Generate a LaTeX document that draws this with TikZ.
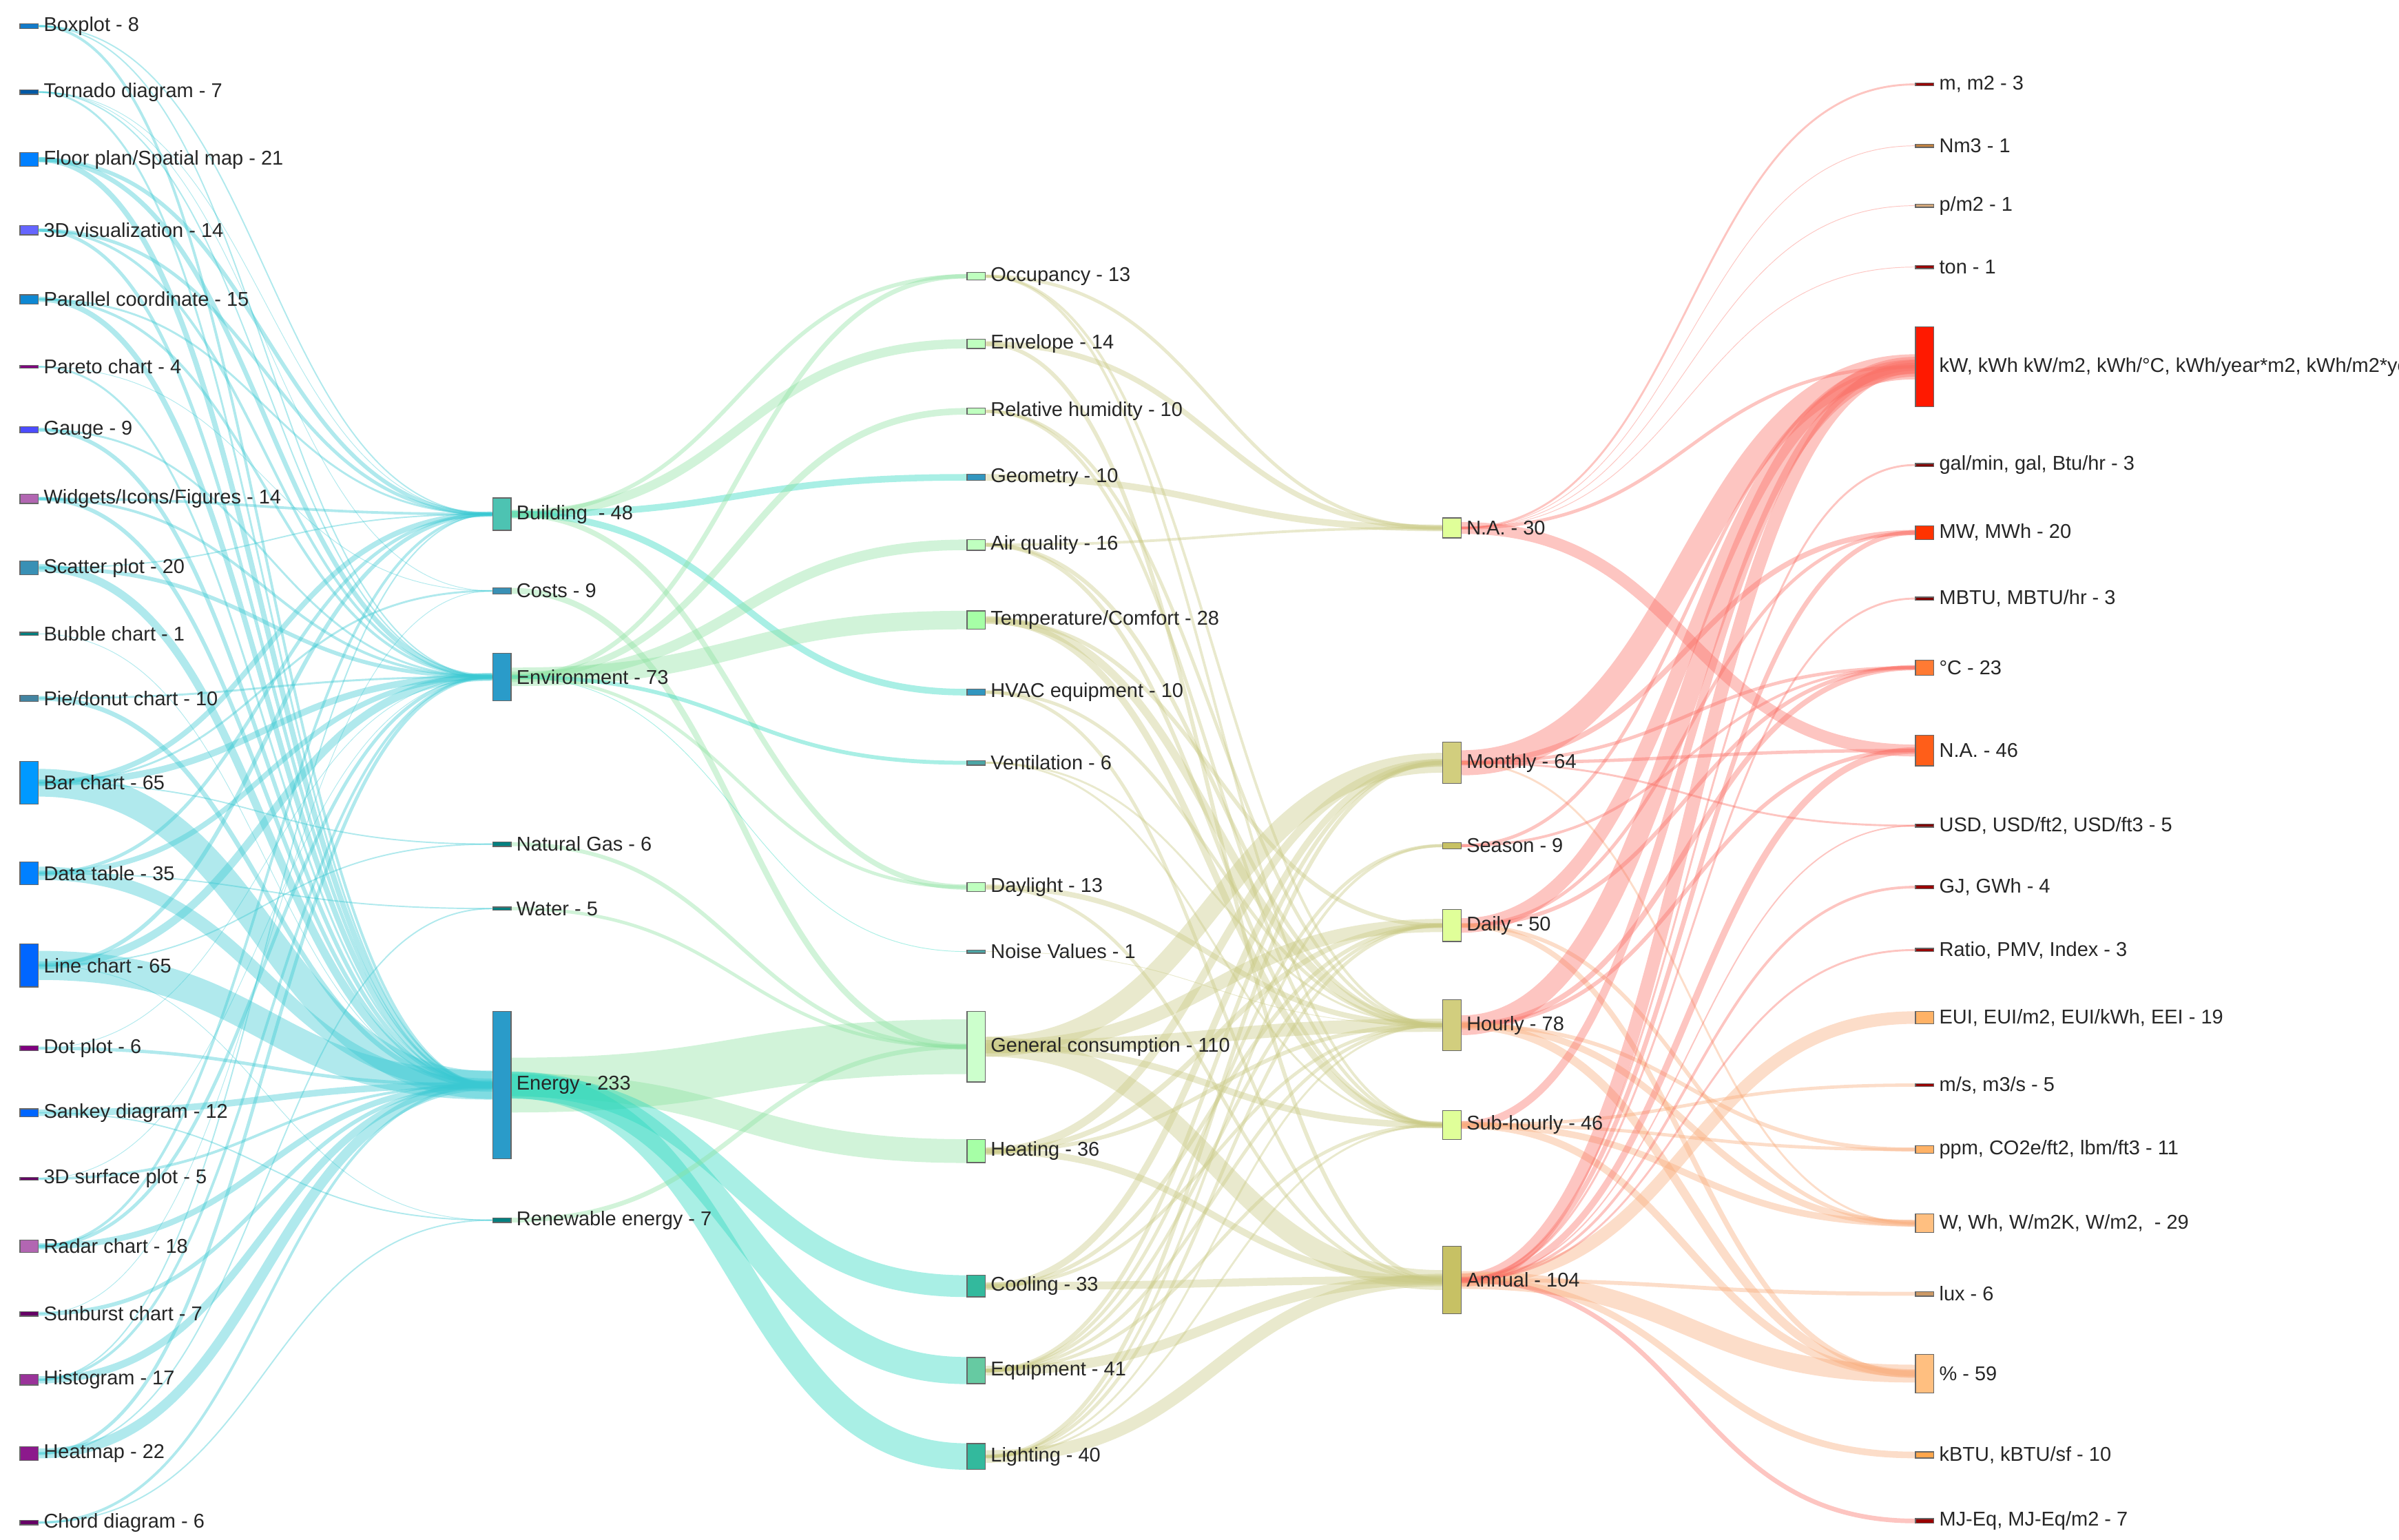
\documentclass[tikz,border=0pt]{standalone}
\usepackage{fontspec}
\setmainfont{Liberation Sans}
\begin{document}
\pgfdeclarelayer{bg}\pgfsetlayers{bg,main}
\definecolor{cA}{RGB}{57,200,210}
\definecolor{cB}{RGB}{140,225,160}
\definecolor{cT}{RGB}{40,215,190}
\definecolor{cC}{RGB}{200,200,130}
\definecolor{cD}{RGB}{250,110,100}
\definecolor{cE}{RGB}{248,170,120}
\newcommand\nd[6]{\node[nd,fill=#5,minimum height=#4pt] (#1) at (#2,#3) {};\node[lab] at (#1.east) {#6};}
\newcommand\fl[4]{\begin{pgfonlayer}{bg}\draw[flow,draw=#4,line width={#3*0.43pt}] (#1.east) .. controls +(150,0) and +(-150,0) .. (#2.west);\end{pgfonlayer}}
\begin{tikzpicture}[x=1pt,y=-1pt,
 nd/.style={draw=black!60,line width=0.6pt,minimum width=12pt,inner sep=0pt,rectangle},
 lab/.style={anchor=west,inner xsep=3pt,font=\fontsize{13}{15}\selectfont,text=black!85},
 flow/.style={opacity=.4}]
\useasboundingbox (0,0) rectangle (1563,1003);
% column 1
\nd{box}{19}{17}{3}{cyan!60!blue}{Boxplot - 8}
\nd{tor}{19}{60}{3}{teal!70!blue}{Tornado diagram - 7}
\nd{flo}{19}{104}{9}{blue!50!cyan}{Floor plan/Spatial map - 21}
\nd{tdv}{19}{150}{6}{blue!60!white}{3D visualization - 14}
\nd{par}{19}{195}{6}{cyan!70!blue}{Parallel coordinate - 15}
\nd{pto}{19}{239}{2}{violet}{Pareto chart - 4}
\nd{gau}{19}{280}{4}{blue!70!white}{Gauge - 9}
\nd{wid}{19}{325}{6}{violet!60!white}{Widgets/Icons/Figures - 14}
\nd{sca}{19}{370}{9}{cyan!70!black}{Scatter plot - 20}
\nd{bub}{19}{413}{2}{teal}{Bubble chart - 1}
\nd{pie}{19}{455}{4}{cyan!60!black}{Pie/donut chart - 10}
\nd{bar}{19}{510}{28}{blue!40!cyan}{Bar chart - 65}
\nd{dat}{19}{569}{15}{blue!50!cyan}{Data table - 35}
\nd{lin}{19}{629}{28}{blue!60!cyan}{Line chart - 65}
\nd{dot}{19}{683}{3}{violet}{Dot plot - 6}
\nd{san}{19}{725}{5}{blue!60!cyan}{Sankey diagram - 12}
\nd{tds}{19}{768}{2}{violet!80!black}{3D surface plot - 5}
\nd{rad}{19}{812}{8}{violet!60!white}{Radar chart - 18}
\nd{sun}{19}{856}{3}{violet!80!black}{Sunburst chart - 7}
\nd{his}{19}{899}{7}{violet!80!white}{Histogram - 17}
\nd{hea}{19}{947}{9}{violet!90!white}{Heatmap - 22}
\nd{cho}{19}{992}{3}{violet!80!black}{Chord diagram - 6}
% column 2
\nd{bld}{327}{335}{21}{cyan!50!green!70!white}{Building\ \ - 48}
\nd{cos}{327}{385}{4}{cyan!70!black}{Costs - 9}
\nd{env}{327}{441}{31}{cyan!60!teal}{Environment - 73}
\nd{gas}{327}{550}{3}{teal}{Natural Gas - 6}
\nd{wat}{327}{592}{2}{teal}{Water - 5}
\nd{ene}{327}{707}{96}{cyan!60!teal}{Energy - 233}
\nd{ren}{327}{795}{3}{teal}{Renewable energy - 7}
% column 3
\nd{occ}{636}{180}{5}{green!25!white}{Occupancy - 13}
\nd{enl}{636}{224}{6}{green!25!white}{Envelope - 14}
\nd{rhu}{636}{268}{4}{green!25!white}{Relative humidity - 10}
\nd{geo}{636}{311}{4}{cyan!50!teal}{Geometry - 10}
\nd{air}{636}{355}{7}{green!25!white}{Air quality - 16}
\nd{tem}{636}{404}{12}{green!35!white}{Temperature/Comfort - 28}
\nd{hva}{636}{451}{4}{cyan!50!teal}{HVAC equipment - 10}
\nd{ven}{636}{497}{3}{teal!70!white}{Ventilation - 6}
\nd{day}{636}{578}{6}{green!25!white}{Daylight - 13}
\nd{noi}{636}{620}{2}{teal!70!white}{Noise Values - 1}
\nd{gen}{636}{682}{46}{green!20!white}{General consumption - 110}
\nd{hea3}{636}{750}{15}{green!35!white}{Heating - 36}
\nd{coo}{636}{838}{14}{cyan!40!green!80!white}{Cooling - 33}
\nd{equ}{636}{893}{17}{cyan!30!green!60!white}{Equipment - 41}
\nd{lig}{636}{949}{17}{cyan!40!green!80!white}{Lighting - 40}
% column 4
\nd{na4}{946}{344}{13}{green!30!yellow!40!white}{N.A. - 30}
\nd{mon}{946}{497}{27}{olive!40!white}{Monthly - 64}
\nd{sea}{946}{551}{4}{olive!50!white}{Season - 9}
\nd{dai}{946}{603}{21}{green!30!yellow!40!white}{Daily - 50}
\nd{hou}{946}{668}{33}{olive!40!white}{Hourly - 78}
\nd{sub}{946}{733}{19}{green!30!yellow!40!white}{Sub-hourly - 46}
\nd{ann}{946}{834}{44}{olive!50!white}{Annual - 104}
% column 5
\nd{mm}{1254}{55}{2}{red!60!black}{m, m2 - 3}
\nd{nm}{1254}{95}{2}{brown}{Nm3 - 1}
\nd{pm}{1254}{134}{2}{brown!70!white}{p/m2 - 1}
\nd{ton}{1254}{174}{2}{red!60!black}{ton - 1}
\nd{kw}{1254}{239}{52}{red!80!orange}{kW, kWh kW/m2, kWh/°C, kWh/year*m2, kWh/m2*year}
\nd{gal}{1254}{303}{2}{red!50!black}{gal/min, gal, Btu/hr - 3}
\nd{mw}{1254}{347}{9}{red!60!orange}{MW, MWh - 20}
\nd{mbt}{1254}{390}{2}{red!50!black}{MBTU, MBTU/hr - 3}
\nd{deg}{1254}{435}{10}{orange!70!red!80!white}{°C - 23}
\nd{na5}{1254}{489}{20}{orange!60!red!90!white}{N.A. - 46}
\nd{usd}{1254}{538}{2}{red!50!black}{USD, USD/ft2, USD/ft3 - 5}
\nd{gj}{1254}{578}{2}{red!60!black}{GJ, GWh - 4}
\nd{rat}{1254}{619}{2}{red!60!black}{Ratio, PMV, Index - 3}
\nd{eui}{1254}{663}{8}{orange!60!white}{EUI, EUI/m2, EUI/kWh, EEI - 19}
\nd{ms}{1254}{707}{2}{red!60!black}{m/s, m3/s - 5}
\nd{ppm}{1254}{749}{5}{orange!60!white}{ppm, CO2e/ft2, lbm/ft3 - 11}
\nd{w}{1254}{797}{12}{orange!50!white}{W, Wh, W/m2K, W/m2,\ \ - 29}
\nd{lux}{1254}{843}{3}{brown!80!white}{lux - 6}
\nd{pc}{1254}{895}{25}{orange!50!white}{\% - 59}
\nd{kbt}{1254}{948}{4}{orange!70!white}{kBTU, kBTU/sf - 10}
\nd{mj}{1254}{991}{3}{red!60!black}{MJ-Eq, MJ-Eq/m2 - 7}
% flows col1 -> col2
\fl{box}{bld}{2}{cA}\fl{box}{env}{2}{cA}\fl{box}{ene}{4}{cA}
\fl{tor}{env}{2}{cA}\fl{tor}{ene}{3}{cA}\fl{tor}{cos}{1}{cA}\fl{tor}{bld}{1}{cA}
\fl{flo}{bld}{6}{cA}\fl{flo}{env}{7}{cA}\fl{flo}{ene}{8}{cA}
\fl{tdv}{bld}{5}{cA}\fl{tdv}{env}{4}{cA}\fl{tdv}{ene}{5}{cA}
\fl{par}{bld}{3}{cA}\fl{par}{env}{4}{cA}\fl{par}{ene}{8}{cA}
\fl{pto}{ene}{3}{cA}\fl{pto}{cos}{1}{cA}
\fl{gau}{env}{3}{cA}\fl{gau}{ene}{6}{cA}
\fl{wid}{bld}{4}{cA}\fl{wid}{env}{4}{cA}\fl{wid}{ene}{6}{cA}
\fl{sca}{env}{6}{cA}\fl{sca}{ene}{12}{cA}\fl{sca}{bld}{2}{cA}
\fl{bub}{ene}{1}{cA}
\fl{pie}{env}{3}{cA}\fl{pie}{ene}{7}{cA}
\fl{bar}{bld}{8}{cA}\fl{bar}{env}{10}{cA}\fl{bar}{ene}{42}{cA}\fl{bar}{cos}{3}{cA}\fl{bar}{gas}{2}{cA}
\fl{dat}{bld}{5}{cA}\fl{dat}{env}{8}{cA}\fl{dat}{ene}{20}{cA}\fl{dat}{wat}{2}{cA}
\fl{lin}{bld}{6}{cA}\fl{lin}{env}{12}{cA}\fl{lin}{ene}{44}{cA}\fl{lin}{gas}{2}{cA}\fl{lin}{ren}{1}{cA}
\fl{dot}{ene}{5}{cA}\fl{dot}{env}{1}{cA}
\fl{san}{ene}{10}{cA}\fl{san}{ren}{2}{cA}
\fl{tds}{ene}{4}{cA}\fl{tds}{env}{1}{cA}
\fl{rad}{bld}{4}{cA}\fl{rad}{env}{5}{cA}\fl{rad}{ene}{9}{cA}
\fl{sun}{ene}{6}{cA}\fl{sun}{cos}{1}{cA}
\fl{his}{env}{4}{cA}\fl{his}{ene}{11}{cA}\fl{his}{bld}{2}{cA}
\fl{hea}{env}{5}{cA}\fl{hea}{ene}{15}{cA}\fl{hea}{wat}{2}{cA}
\fl{cho}{ene}{4}{cA}\fl{cho}{ren}{2}{cA}
% col2 -> col3
\fl{bld}{occ}{6}{cB}\fl{bld}{enl}{14}{cB}\fl{bld}{geo}{10}{cT}\fl{bld}{hva}{10}{cT}\fl{bld}{day}{8}{cB}
\fl{cos}{gen}{9}{cB}
\fl{env}{occ}{7}{cB}\fl{env}{rhu}{10}{cB}\fl{env}{air}{16}{cB}\fl{env}{tem}{28}{cB}\fl{env}{ven}{6}{cT}\fl{env}{day}{5}{cB}\fl{env}{noi}{1}{cT}
\fl{gas}{gen}{6}{cB}\fl{wat}{gen}{5}{cB}
\fl{ene}{gen}{83}{cB}\fl{ene}{hea3}{36}{cB}\fl{ene}{coo}{33}{cT}\fl{ene}{equ}{41}{cT}\fl{ene}{lig}{40}{cT}
\fl{ren}{gen}{7}{cB}
% col3 -> col4
\fl{occ}{na4}{5}{cC}\fl{occ}{hou}{4}{cC}\fl{occ}{sub}{4}{cC}
\fl{enl}{na4}{8}{cC}\fl{enl}{ann}{6}{cC}
\fl{rhu}{hou}{5}{cC}\fl{rhu}{sub}{5}{cC}
\fl{geo}{na4}{10}{cC}
\fl{air}{na4}{4}{cC}\fl{air}{hou}{6}{cC}\fl{air}{sub}{6}{cC}
\fl{tem}{hou}{12}{cC}\fl{tem}{sub}{10}{cC}\fl{tem}{dai}{6}{cC}
\fl{hva}{hou}{5}{cC}\fl{hva}{ann}{5}{cC}
\fl{ven}{hou}{3}{cC}\fl{ven}{sub}{3}{cC}
\fl{day}{ann}{5}{cC}\fl{day}{hou}{8}{cC}
\fl{noi}{hou}{1}{cC}
\fl{gen}{mon}{30}{cC}\fl{gen}{dai}{20}{cC}\fl{gen}{hou}{20}{cC}\fl{gen}{sub}{10}{cC}\fl{gen}{ann}{30}{cC}
\fl{hea3}{mon}{12}{cC}\fl{hea3}{dai}{8}{cC}\fl{hea3}{hou}{6}{cC}\fl{hea3}{ann}{10}{cC}
\fl{coo}{mon}{10}{cC}\fl{coo}{dai}{6}{cC}\fl{coo}{hou}{5}{cC}\fl{coo}{ann}{12}{cC}
\fl{equ}{mon}{6}{cC}\fl{equ}{dai}{5}{cC}\fl{equ}{sea}{5}{cC}\fl{equ}{hou}{5}{cC}\fl{equ}{sub}{5}{cC}\fl{equ}{ann}{15}{cC}
\fl{lig}{mon}{6}{cC}\fl{lig}{dai}{5}{cC}\fl{lig}{sea}{4}{cC}\fl{lig}{hou}{3}{cC}\fl{lig}{sub}{3}{cC}\fl{lig}{ann}{19}{cC}
% col4 -> col5
\fl{na4}{na5}{18}{cD}\fl{na4}{mm}{3}{cD}\fl{na4}{kw}{5}{cD}\fl{na4}{nm}{1}{cD}\fl{na4}{pm}{1}{cD}\fl{na4}{ton}{1}{cD}
\fl{mon}{kw}{38}{cD}\fl{mon}{mw}{8}{cD}\fl{mon}{deg}{5}{cD}\fl{mon}{na5}{5}{cD}\fl{mon}{usd}{3}{cD}\fl{mon}{w}{3}{cE}
\fl{sea}{kw}{5}{cD}\fl{sea}{deg}{4}{cD}
\fl{dai}{kw}{22}{cD}\fl{dai}{mw}{5}{cD}\fl{dai}{deg}{6}{cD}\fl{dai}{w}{6}{cE}\fl{dai}{pc}{8}{cE}
\fl{hou}{kw}{30}{cD}\fl{hou}{deg}{8}{cD}\fl{hou}{na5}{6}{cD}\fl{hou}{ppm}{6}{cE}\fl{hou}{w}{10}{cE}\fl{hou}{pc}{13}{cE}
\fl{sub}{kw}{12}{cD}\fl{sub}{w}{10}{cE}\fl{sub}{ppm}{5}{cE}\fl{sub}{ms}{5}{cE}\fl{sub}{pc}{11}{cE}
\fl{ann}{kw}{20}{cD}\fl{ann}{eui}{19}{cE}\fl{ann}{pc}{27}{cE}\fl{ann}{kbt}{10}{cE}\fl{ann}{mj}{7}{cD}\fl{ann}{gj}{4}{cD}\fl{ann}{gal}{3}{cD}\fl{ann}{mbt}{3}{cD}\fl{ann}{rat}{3}{cD}\fl{ann}{lux}{6}{cE}\fl{ann}{usd}{2}{cD}\fl{ann}{mw}{7}{cD}\fl{ann}{na5}{10}{cD}
\end{tikzpicture}
\end{document}
